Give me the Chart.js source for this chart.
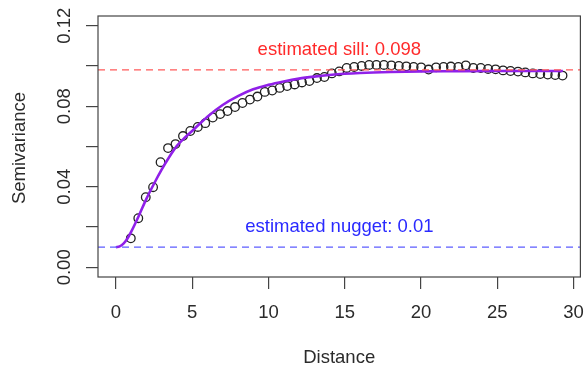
<!DOCTYPE html>
<html>
<head>
<meta charset="utf-8">
<script src="https://cdn.jsdelivr.net/npm/chart.js@4"></script>
<style>
  html, body { margin: 0; padding: 0; background: #fff; }
  canvas { display: block; }
</style>
</head>
<body>
<canvas id="chart" width="586" height="370"></canvas>
<script>
// empirical semivariogram (lag distance / semivariance)
const lagDistance = [
  0.98, 1.47, 1.96, 2.44, 2.93, 3.42, 3.91, 4.40, 4.88, 5.37,
  5.86, 6.35, 6.84, 7.32, 7.81, 8.30, 8.79, 9.28, 9.76, 10.25,
  10.74, 11.23, 11.72, 12.20, 12.69, 13.18, 13.67, 14.16, 14.64, 15.13,
  15.62, 16.11, 16.60, 17.08, 17.57, 18.06, 18.55, 19.04, 19.52, 20.01,
  20.50, 20.99, 21.48, 21.96, 22.45, 22.94, 23.43, 23.92, 24.40, 24.89,
  25.38, 25.87, 26.36, 26.84, 27.33, 27.82, 28.31, 28.80, 29.28
];
const semivariance = [
  0.0144, 0.0244, 0.0348, 0.0398, 0.0522, 0.0592, 0.0612, 0.0652, 0.0677, 0.0697,
  0.0716, 0.0744, 0.0761, 0.0776, 0.0796, 0.0816, 0.0833, 0.0848, 0.0871, 0.0878,
  0.0891, 0.0900, 0.0908, 0.0918, 0.0925, 0.0940, 0.0945, 0.0963, 0.0973, 0.0990,
  0.0995, 0.1000, 0.1005, 0.1005, 0.1005, 0.1003, 0.1000, 0.0998, 0.0995, 0.0993,
  0.0982, 0.0993, 0.0995, 0.0997, 0.0995, 0.1003, 0.0990, 0.0990, 0.0985, 0.0983,
  0.0978, 0.0975, 0.0972, 0.0968, 0.0963, 0.0960, 0.0957, 0.0955, 0.0952
];

// fitted model curve
const fitDistance = [0, 0.25, 0.5, 0.75, 1, 1.5, 2, 2.5, 3, 3.5, 4, 4.5, 5, 6, 7, 8, 9, 10,
  11, 12, 13, 14, 15, 16, 18, 20, 22, 25, 29.3];
const fitValue = [0.0100, 0.0104, 0.0118, 0.0142, 0.0176, 0.0255, 0.0340, 0.0415, 0.0485,
  0.0548, 0.0603, 0.0642, 0.0677, 0.0748, 0.0806, 0.0850, 0.0884, 0.0906, 0.0923, 0.0937,
  0.0947, 0.0955, 0.0961, 0.0965, 0.0970, 0.0973, 0.0974, 0.0975, 0.0975];

const sill = 0.098;
const nugget = 0.01;
const labelX = 14.65;

const xTicks = [0, 5, 10, 15, 20, 25, 30];
const yTicks = [0, 0.02, 0.04, 0.06, 0.08, 0.10, 0.12];
const yLabelValues = [0, 0.04, 0.08, 0.12];
const yLabelText = ['0.00', '0.04', '0.08', '0.12'];

const FONT = '18.5px "Liberation Sans", Arial, sans-serif';

const rDecorations = {
  id: 'rDecorations',
  afterDatasetsDraw(chart) {
    const { ctx, chartArea: a, scales: { x, y } } = chart;
    ctx.save();
    ctx.lineWidth = 1.3;
    ctx.setLineDash([7, 5]);
    [[sill, '#ff5a5a'], [nugget, '#5d5dff']].forEach(([v, c]) => {
      const py = y.getPixelForValue(v);
      ctx.strokeStyle = c;
      ctx.beginPath();
      ctx.moveTo(a.left, py);
      ctx.lineTo(a.right, py);
      ctx.stroke();
    });
    ctx.setLineDash([]);

    ctx.font = FONT;
    ctx.textAlign = 'center';
    ctx.textBaseline = 'middle';
    ctx.fillStyle = '#ff2a2a';
    ctx.fillText('estimated sill: ' + sill, x.getPixelForValue(labelX), y.getPixelForValue(sill + 0.01));
    ctx.fillStyle = '#2a2aff';
    ctx.fillText('estimated nugget: ' + nugget, x.getPixelForValue(labelX), y.getPixelForValue(nugget + 0.01));
    ctx.restore();
  },
  afterDraw(chart) {
    const { ctx, chartArea: a, scales: { x, y } } = chart;
    ctx.save();
    ctx.strokeStyle = '#444';
    ctx.lineWidth = 1.2;
    ctx.strokeRect(a.left, a.top, a.right - a.left, a.bottom - a.top);

    ctx.font = FONT;
    ctx.fillStyle = '#2b2b2b';
    ctx.textAlign = 'center';
    ctx.textBaseline = 'middle';
    xTicks.forEach(v => ctx.fillText(String(v), x.getPixelForValue(v), a.bottom + 36));
    ctx.fillText('Distance', (a.left + a.right) / 2, a.bottom + 80.5);

    yLabelValues.forEach((v, i) => {
      ctx.save();
      ctx.translate(a.left - 33, y.getPixelForValue(v));
      ctx.rotate(-Math.PI / 2);
      ctx.fillText(yLabelText[i], 0, 0);
      ctx.restore();
    });
    ctx.save();
    ctx.translate(20, (a.top + a.bottom) / 2 + 1.5);
    ctx.rotate(-Math.PI / 2);
    ctx.fillText('Semivariance', 0, 0);
    ctx.restore();
    ctx.restore();
  }
};

const tickGrid = {
  drawOnChartArea: false,
  drawTicks: true,
  tickLength: 12,
  color: '#444',
  lineWidth: 1.2
};

new Chart(document.getElementById('chart'), {
  type: 'scatter',
  data: {
    datasets: [
      {
        label: 'semivariance',
        data: lagDistance.map((d, i) => ({ x: d, y: semivariance[i] })),
        pointStyle: 'circle',
        pointRadius: 4.3,
        pointBorderWidth: 1.3,
        pointBorderColor: '#222',
        pointBackgroundColor: 'rgba(0,0,0,0)',
        showLine: false,
        order: 2
      },
      {
        label: 'model',
        data: fitDistance.map((d, i) => ({ x: d, y: fitValue[i] })),
        showLine: true,
        borderColor: '#9020e8',
        borderWidth: 2.6,
        pointRadius: 0,
        cubicInterpolationMode: 'monotone',
        order: 1
      }
    ]
  },
  options: {
    responsive: false,
    animation: false,
    devicePixelRatio: 1,
    layout: { padding: { top: 16, right: 3, left: 0, bottom: 0 } },
    plugins: {
      legend: { display: false },
      tooltip: { enabled: false }
    },
    scales: {
      x: {
        type: 'linear',
        min: -1.171,
        max: 30.451,
        grid: tickGrid,
        border: { display: false },
        ticks: { display: false },
        afterBuildTicks: s => { s.ticks = xTicks.map(v => ({ value: v })); },
        afterFit: s => { s.height = 93; }
      },
      y: {
        type: 'linear',
        min: -0.0048,
        max: 0.1248,
        grid: tickGrid,
        border: { display: false },
        ticks: { display: false },
        afterBuildTicks: s => { s.ticks = yTicks.map(v => ({ value: v })); },
        afterFit: s => { s.width = 98; }
      }
    }
  },
  plugins: [rDecorations]
});
</script>
</body>
</html>
